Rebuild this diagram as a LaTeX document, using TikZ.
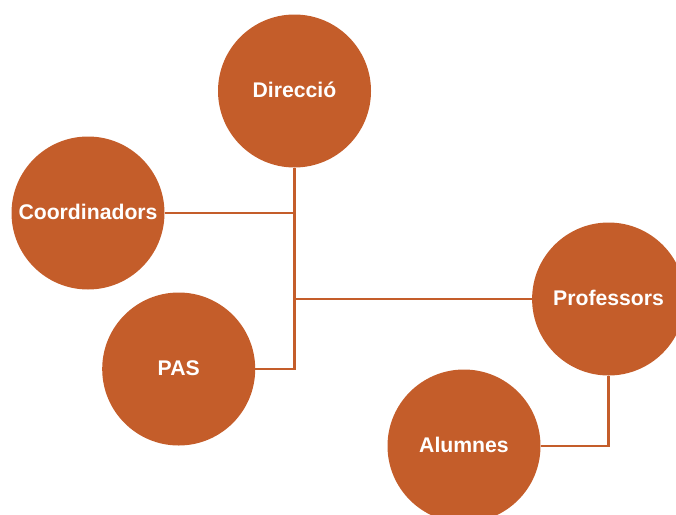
\documentclass[tikz,border=0pt]{standalone}
\usepackage{fontspec}
\setmainfont{Liberation Sans}
\definecolor{rust}{HTML}{C45D2A}
\begin{document}
\begin{tikzpicture}[x=1pt,y=-1pt,
  member/.style={circle,fill=rust,draw=none,minimum size=153pt,inner sep=0pt,
    text=white,font=\fontsize{21.2}{24}\selectfont\bfseries,
    execute at begin node={\raise2.5pt\hbox\bgroup},
    execute at end node={\egroup}},
  link/.style={draw=rust,line width=2.5pt}]
  \useasboundingbox (0,0) rectangle (676,514);
  \clip (0,0) rectangle (676,514);
  % organisation members
  \node[member] (dir)   at (294.5,91)  {Direcció};
  \node[member] (coord) at (88,213)    {Coordinadors};
  \node[member] (pas)   at (178.7,369) {PAS};
  \node[member] (prof)  at (608.6,299) {Professors};
  \node[member] (alum)  at (464,446)   {Alumnes};
  % connectors
  \draw[link] (dir.south) |- (pas.east);
  \draw[link] (coord.east) -- (coord.east -| dir.south);
  \draw[link] (dir.south |- prof.west) -- (prof.west);
  \draw[link] (prof.south) |- (alum.east);
\end{tikzpicture}
\end{document}
